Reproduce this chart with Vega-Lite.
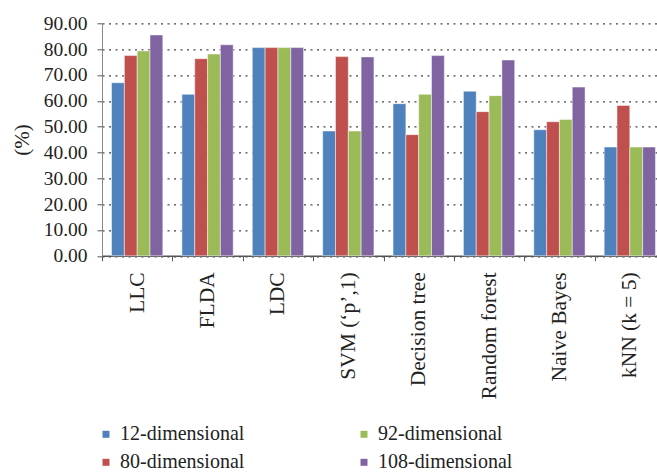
{
  "$schema": "https://vega.github.io/schema/vega-lite/v6.json",
  "autosize": "none",
  "width": 555,
  "height": 232.5,
  "padding": {"left": 102, "top": 23.3, "right": 0, "bottom": 217},
  "background": "white",
  "config": {
    "font": "Liberation Serif, Times New Roman, serif",
    "view": {"stroke": null},
    "axis": {"labelFont": "Liberation Serif, Times New Roman, serif", "titleFont": "Liberation Serif, Times New Roman, serif"},
    "legend": {"labelFont": "Liberation Serif, Times New Roman, serif", "titleFont": "Liberation Serif, Times New Roman, serif"}
  },
  "data": {"values": [
    {"method": "LLC", "dim": "12-dimensional", "value": 67.0},
    {"method": "LLC", "dim": "80-dimensional", "value": 77.5},
    {"method": "LLC", "dim": "92-dimensional", "value": 79.3},
    {"method": "LLC", "dim": "108-dimensional", "value": 85.5},
    {"method": "FLDA", "dim": "12-dimensional", "value": 62.5},
    {"method": "FLDA", "dim": "80-dimensional", "value": 76.3},
    {"method": "FLDA", "dim": "92-dimensional", "value": 78.1},
    {"method": "FLDA", "dim": "108-dimensional", "value": 81.7},
    {"method": "LDC", "dim": "12-dimensional", "value": 80.6},
    {"method": "LDC", "dim": "80-dimensional", "value": 80.6},
    {"method": "LDC", "dim": "92-dimensional", "value": 80.6},
    {"method": "LDC", "dim": "108-dimensional", "value": 80.6},
    {"method": "SVM (‘p’,1)", "dim": "12-dimensional", "value": 48.3},
    {"method": "SVM (‘p’,1)", "dim": "80-dimensional", "value": 77.1},
    {"method": "SVM (‘p’,1)", "dim": "92-dimensional", "value": 48.3},
    {"method": "SVM (‘p’,1)", "dim": "108-dimensional", "value": 77.0},
    {"method": "Decision tree", "dim": "12-dimensional", "value": 58.9},
    {"method": "Decision tree", "dim": "80-dimensional", "value": 46.9},
    {"method": "Decision tree", "dim": "92-dimensional", "value": 62.5},
    {"method": "Decision tree", "dim": "108-dimensional", "value": 77.5},
    {"method": "Random forest", "dim": "12-dimensional", "value": 63.7},
    {"method": "Random forest", "dim": "80-dimensional", "value": 55.8},
    {"method": "Random forest", "dim": "92-dimensional", "value": 62.0},
    {"method": "Random forest", "dim": "108-dimensional", "value": 75.8},
    {"method": "Naive Bayes", "dim": "12-dimensional", "value": 48.8},
    {"method": "Naive Bayes", "dim": "80-dimensional", "value": 51.9},
    {"method": "Naive Bayes", "dim": "92-dimensional", "value": 52.8},
    {"method": "Naive Bayes", "dim": "108-dimensional", "value": 65.3},
    {"method": "kNN (k = 5)", "dim": "12-dimensional", "value": 42.1},
    {"method": "kNN (k = 5)", "dim": "80-dimensional", "value": 58.2},
    {"method": "kNN (k = 5)", "dim": "92-dimensional", "value": 42.1},
    {"method": "kNN (k = 5)", "dim": "108-dimensional", "value": 42.1}
  ]},
  "mark": {"type": "bar", "stroke": "white", "strokeWidth": 0.8, "strokeOpacity": 0.6},
  "encoding": {
    "x": {
      "field": "method", "type": "nominal",
      "sort": ["LLC", "FLDA", "LDC", "SVM (‘p’,1)", "Decision tree", "Random forest", "Naive Bayes", "kNN (k = 5)"],
      "scale": {"paddingInner": 0, "paddingOuter": 0, "range": [0, 563]},
      "axis": {
        "title": null, "labelAngle": -90, "labelAlign": "right", "labelBaseline": "middle",
        "labelFontSize": 21.5, "labelColor": "#222", "tickBand": "extent",
        "tickSize": 5, "tickColor": "#555", "domainColor": "#555", "domainWidth": 1.5,
        "labelPadding": 11, "grid": false, "labelOverlap": false
      }
    },
    "xOffset": {
      "field": "dim", "type": "nominal",
      "sort": ["12-dimensional", "80-dimensional", "92-dimensional", "108-dimensional"],
      "scale": {"paddingInner": 0, "paddingOuter": 0.745}
    },
    "y": {
      "field": "value", "type": "quantitative",
      "scale": {"domain": [0, 90], "nice": false},
      "axis": {
        "title": "(%)", "titleFontSize": 21, "titleFontWeight": "normal", "titleColor": "#222",
        "titlePadding": 11, "values": [0, 10, 20, 30, 40, 50, 60, 70, 80, 90], "format": ".2f",
        "labelFontSize": 19.5, "labelColor": "#222", "tickSize": 5, "labelPadding": 10,
        "tickColor": "#555", "domainColor": "#888",
        "gridDash": [2, 4.5], "gridColor": "#444", "gridWidth": 1.2
      }
    },
    "color": {
      "field": "dim", "type": "nominal",
      "scale": {
        "domain": ["12-dimensional", "80-dimensional", "92-dimensional", "108-dimensional"],
        "range": ["#4F81BD", "#C0504D", "#9BBB59", "#8064A2"]
      },
      "legend": {
        "orient": "none", "legendX": -6, "legendY": 401, "columns": 2, "direction": "vertical", "title": null,
        "labelFontSize": 20, "labelColor": "#222", "symbolType": "square", "symbolSize": 49,
        "symbolStrokeWidth": 0, "labelOffset": 4, "columnPadding": 109, "rowPadding": 8,
        "padding": 0, "labelLimit": 300
      }
    }
  }
}
